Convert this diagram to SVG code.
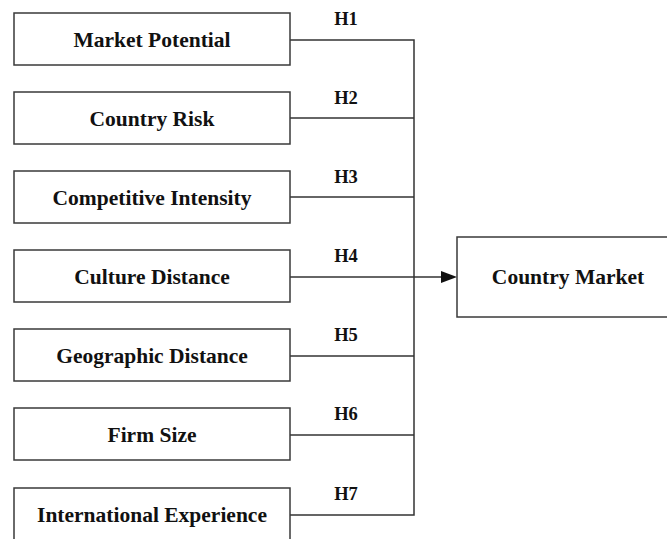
<svg xmlns="http://www.w3.org/2000/svg" width="667" height="539" viewBox="0 0 667 539">
<style>
.box{fill:#fff;stroke:#3a3a3a;stroke-width:1.5}
.t{font-family:"Liberation Serif","Times New Roman",serif;font-weight:bold;font-size:21.5px;fill:#111;text-anchor:middle}
.h{font-family:"Liberation Serif","Times New Roman",serif;font-weight:bold;font-size:18.5px;fill:#111;text-anchor:middle}
.c{fill:none;stroke:#333;stroke-width:1.5}
</style>
<rect width="667" height="539" fill="#fff"/>
<g id="connectors">
<path class="c" d="M290,40 H414 V515 H290"/>
<path class="c" d="M290,118 H414"/>
<path class="c" d="M290,197 H414"/>
<path class="c" d="M290,356 H414"/>
<path class="c" d="M290,435 H414"/>
<path class="c" d="M290,277 H442"/>
<path d="M441,271 L457,277 L441,283 Z" fill="#111"/>
</g>
<g id="labels">
<text class="h" x="346" y="25">H1</text>
<text class="h" x="346" y="104">H2</text>
<text class="h" x="346" y="183">H3</text>
<text class="h" x="346" y="262">H4</text>
<text class="h" x="346" y="341">H5</text>
<text class="h" x="346" y="420">H6</text>
<text class="h" x="346" y="500">H7</text>
</g>
<g id="n1"><rect class="box" x="14" y="13" width="276" height="52"/><text class="t" x="152" y="47">Market Potential</text></g>
<g id="n2"><rect class="box" x="14" y="92" width="276" height="52"/><text class="t" x="152" y="126">Country Risk</text></g>
<g id="n3"><rect class="box" x="14" y="171" width="276" height="52"/><text class="t" x="152" y="205">Competitive Intensity</text></g>
<g id="n4"><rect class="box" x="14" y="250" width="276" height="52"/><text class="t" x="152" y="284">Culture Distance</text></g>
<g id="n5"><rect class="box" x="14" y="329" width="276" height="52"/><text class="t" x="152" y="363">Geographic Distance</text></g>
<g id="n6"><rect class="box" x="14" y="408" width="276" height="52"/><text class="t" x="152" y="442">Firm Size</text></g>
<g id="n7"><rect class="box" x="14" y="488" width="276" height="60"/><text class="t" x="152" y="522">International Experience</text></g>
<g id="target"><rect class="box" x="457" y="237" width="215" height="80"/><text class="t" x="568" y="284">Country Market</text></g>
</svg>
